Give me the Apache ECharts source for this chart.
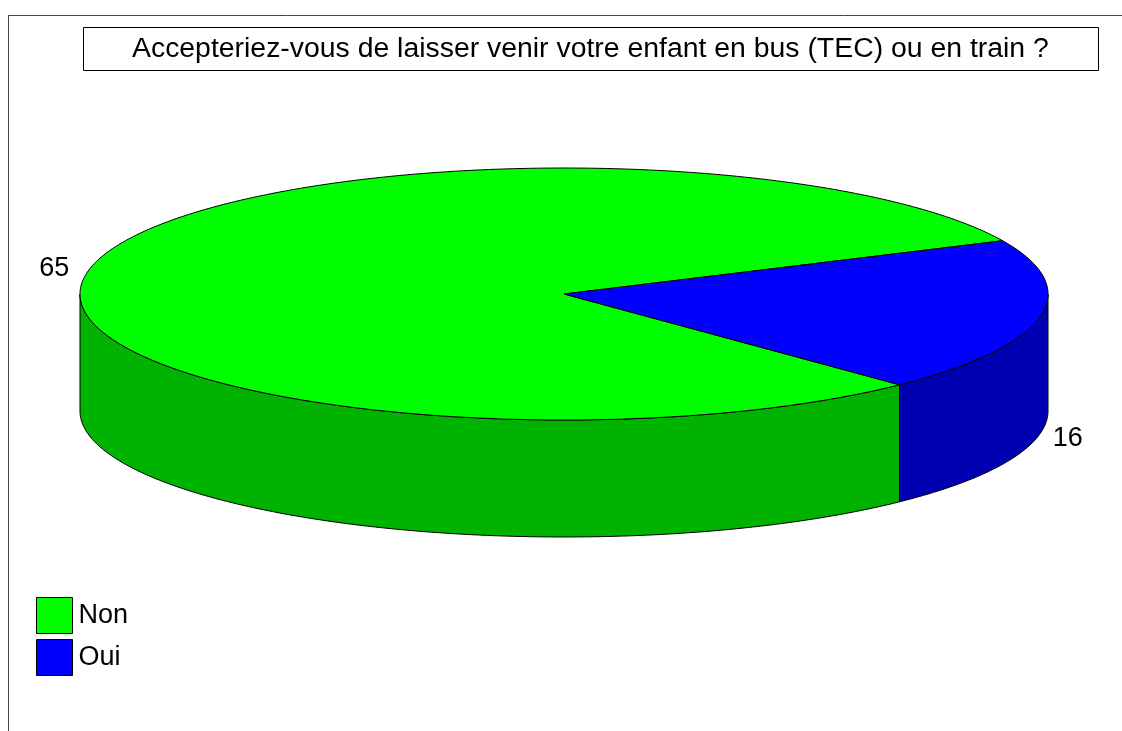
<!DOCTYPE html>
<html>
<head>
<meta charset="utf-8">
<script src="https://cdn.jsdelivr.net/npm/echarts@6/dist/echarts.min.js"></script>
<style>
  html, body { margin: 0; padding: 0; background: #fff; }
  #chart { width: 1122px; height: 731px; }
</style>
</head>
<body>
<div id="chart"></div>
<script>
// data
var categories = ['Non', 'Oui'];
var values = [65, 16];
var titleText = 'Accepteriez-vous de laisser venir votre enfant en bus (TEC) ou en train ?';

var topColors = ['#00ff00', '#0000ff'];
var sideColors = ['#00b300', '#0000b3'];
var startAngle = 25; // degrees, counterclockwise from 3 o'clock

// pie geometry (px)
var pie = { cx: 564, cy: 294, rx: 484, ry: 126, depth: 117 };

var total = values.reduce(function (a, b) { return a + b; }, 0);

function pt(deg, dy) {
	var r = deg * Math.PI / 180;
	return [pie.cx + pie.rx * Math.cos(r), pie.cy - pie.ry * Math.sin(r) + (dy || 0)];
}

function arc(a0, a1, dy) {
	var pts = [];
	var n = Math.max(2, Math.ceil(Math.abs(a1 - a0)));
	for (var i = 0; i <= n; i++) {
		pts.push(pt(a0 + (a1 - a0) * i / n, dy));
	}
	return pts;
}

function sliceAngles(idx) {
	var before = 0;
	for (var i = 0; i < idx; i++) before += values[i];
	var a0 = startAngle + before / total * 360;
	var a1 = a0 + values[idx] / total * 360;
	return [a0, a1];
}

function renderSlice(idx) {
	return function (params, api) {
		var ang = sliceAngles(idx);
		var a0 = ang[0], a1 = ang[1];
		var children = [];

		// front wall pieces (visible where sin < 0)
		for (var k = -1; k <= 2; k++) {
			var f0 = Math.max(a0, 180 + 360 * k);
			var f1 = Math.min(a1, 360 + 360 * k);
			if (f1 > f0) {
				var pts = arc(f0, f1, 0).concat(arc(f1, f0, pie.depth));
				children.push({
					type: 'polygon',
					shape: { points: pts },
					style: { fill: sideColors[idx], stroke: '#000', lineWidth: 1 }
				});
			}
		}

		// top face
		var top = [[pie.cx, pie.cy]].concat(arc(a0, a1, 0));
		children.push({
			type: 'polygon',
			shape: { points: top },
			style: { fill: topColors[idx], stroke: '#000', lineWidth: 1 }
		});

		// value label
		var mid = (a0 + a1) / 2;
		var r = mid * Math.PI / 180;
		var p = pt(mid, Math.sin(r) < 0 ? pie.depth + 6 : 0);
		var right = Math.cos(r) >= 0;
		children.push({
			type: 'text',
			x: p[0] + (right ? 13 : -19),
			y: p[1] - 2,
			style: {
				text: String(api.value(0)),
				fill: '#000',
				font: '27px "Liberation Sans", Arial, sans-serif',
				align: right ? 'left' : 'right',
				verticalAlign: 'middle'
			}
		});

		return { type: 'group', children: children };
	};
}

var chart = echarts.init(document.getElementById('chart'), null, { renderer: 'canvas' });

var option = {
	animation: false,
	color: topColors,
	title: {
		text: titleText,
		left: 83,
		top: 27,
		padding: [1, 50, 1, 49],
		borderColor: '#000',
		borderWidth: 1,
		textStyle: {
			fontFamily: '"Liberation Sans", Arial, sans-serif',
			fontSize: 28.4,
			fontWeight: 'normal',
			color: '#000',
			lineHeight: 42
		}
	},
	legend: {
		data: categories,
		orient: 'vertical',
		left: 36,
		top: 597,
		padding: 0,
		itemWidth: 36,
		itemHeight: 36,
		itemGap: 5,
		icon: 'rect',
		selectedMode: false,
		itemStyle: { borderColor: '#000', borderWidth: 1 },
		textStyle: {
			fontFamily: '"Liberation Sans", Arial, sans-serif',
			fontSize: 27,
			color: '#000',
			padding: [0, 0, 0, 1]
		}
	},
	graphic: [
		{ type: 'line', shape: { x1: 8, y1: 15.5, x2: 1122, y2: 15.5 }, style: { stroke: '#444', lineWidth: 1 } },
		{ type: 'line', shape: { x1: 8.5, y1: 15, x2: 8.5, y2: 731 }, style: { stroke: '#444', lineWidth: 1 } }
	],
	series: categories.map(function (name, i) {
		return {
			name: name,
			type: 'custom',
			coordinateSystem: 'none',
			itemStyle: { color: topColors[i] },
			renderItem: renderSlice(i),
			data: [values[i]]
		};
	})
};

chart.setOption(option);
</script>
</body>
</html>
